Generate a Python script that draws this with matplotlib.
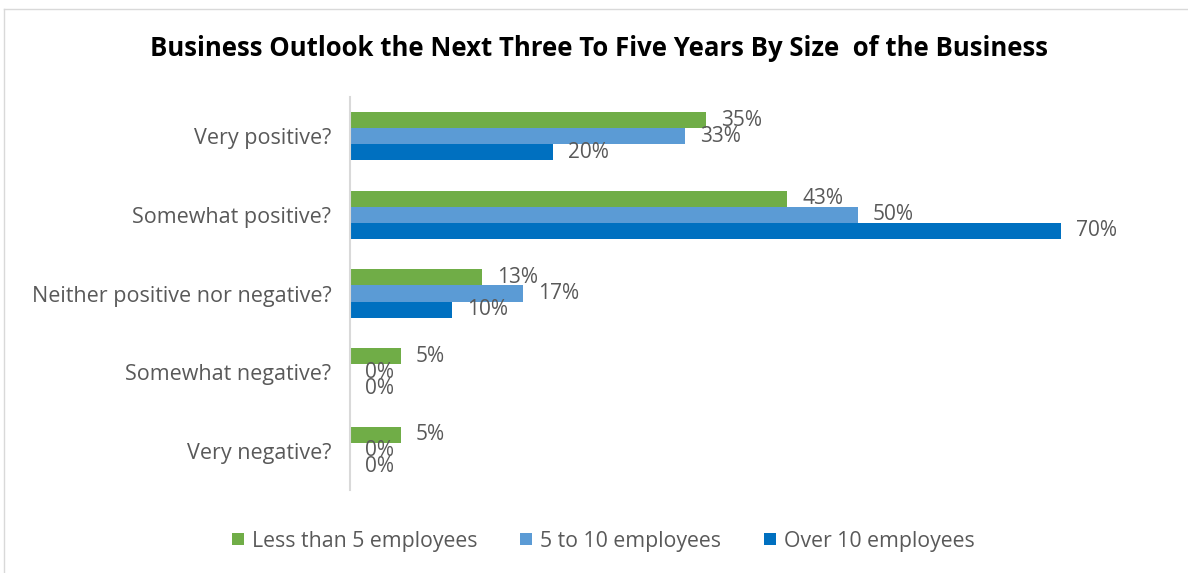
import matplotlib
import matplotlib.pyplot as plt
import numpy as np
from matplotlib.lines import Line2D

matplotlib.use('Agg')

# Survey answers, top to bottom
categories = ["Very positive?", "Somewhat positive?", "Neither positive nor negative?",
              "Somewhat negative?", "Very negative?"]
series_names = ["Less than 5 employees", "5 to 10 employees", "Over 10 employees"]
less_than_5 = [35, 43, 13, 5, 5]
five_to_10 = [33, 50, 17, 0, 0]
over_10 = [20, 70, 10, 0, 0]

colors = ["#70AD47", "#5B9BD5", "#0070C0"]
text_color = "#595959"

plt.rcParams['font.family'] = ['Open Sans', 'DejaVu Sans']

fig = plt.figure(figsize=(11.88, 5.73), dpi=100)
ax = fig.add_axes([350 / 1188, 1 - 490 / 573, 812.6 / 1188, 393 / 573])

# Excel style chart frame (top and left edges visible)
fig.add_artist(Line2D([4 / 1188, 4 / 1188], [0, 1 - 9 / 573], transform=fig.transFigure,
                      color="#D9D9D9", lw=1))
fig.add_artist(Line2D([4 / 1188, 1], [1 - 9 / 573, 1 - 9 / 573], transform=fig.transFigure,
                      color="#D9D9D9", lw=1))

y = np.arange(len(categories))
h = 0.204
series = [less_than_5, five_to_10, over_10]
for i, (vals, name, col) in enumerate(zip(series, series_names, colors)):
    pos = y + (i - 1) * h
    ax.barh(pos, vals, height=h, color=col, label=name)
    for p, v in zip(pos, vals):
        ax.text(v + 1.5, p, f"{v}%", va='center', ha='left', fontsize=15, color=text_color)

ax.set_xlim(0, 80)
ax.set_ylim(len(categories) - 0.5, -0.5)
ax.set_yticks(y)
ax.set_yticklabels(categories, fontsize=15.5, color=text_color)
ax.tick_params(axis='y', length=0, pad=13.5)
ax.set_xticks([])
for s in ['top', 'right', 'bottom']:
    ax.spines[s].set_visible(False)
ax.spines['left'].set_color("#D9D9D9")
ax.spines['left'].set_linewidth(1.5)

fig.text(0.504, 1 - 49 / 573, "Business Outlook the Next Three To Five Years By Size  of the Business",
         ha='center', va='center', fontsize=18.5, fontweight='bold', color='black')

leg = fig.legend(loc='center', bbox_to_anchor=(0.508, 1 - 541 / 573), ncol=3, frameon=False,
                 fontsize=15.3, handlelength=0.55, handleheight=0.55, handletextpad=0.4,
                 columnspacing=2.0)
for t in leg.get_texts():
    t.set_color(text_color)

plt.savefig("out.png", dpi=100)
plt.close()
